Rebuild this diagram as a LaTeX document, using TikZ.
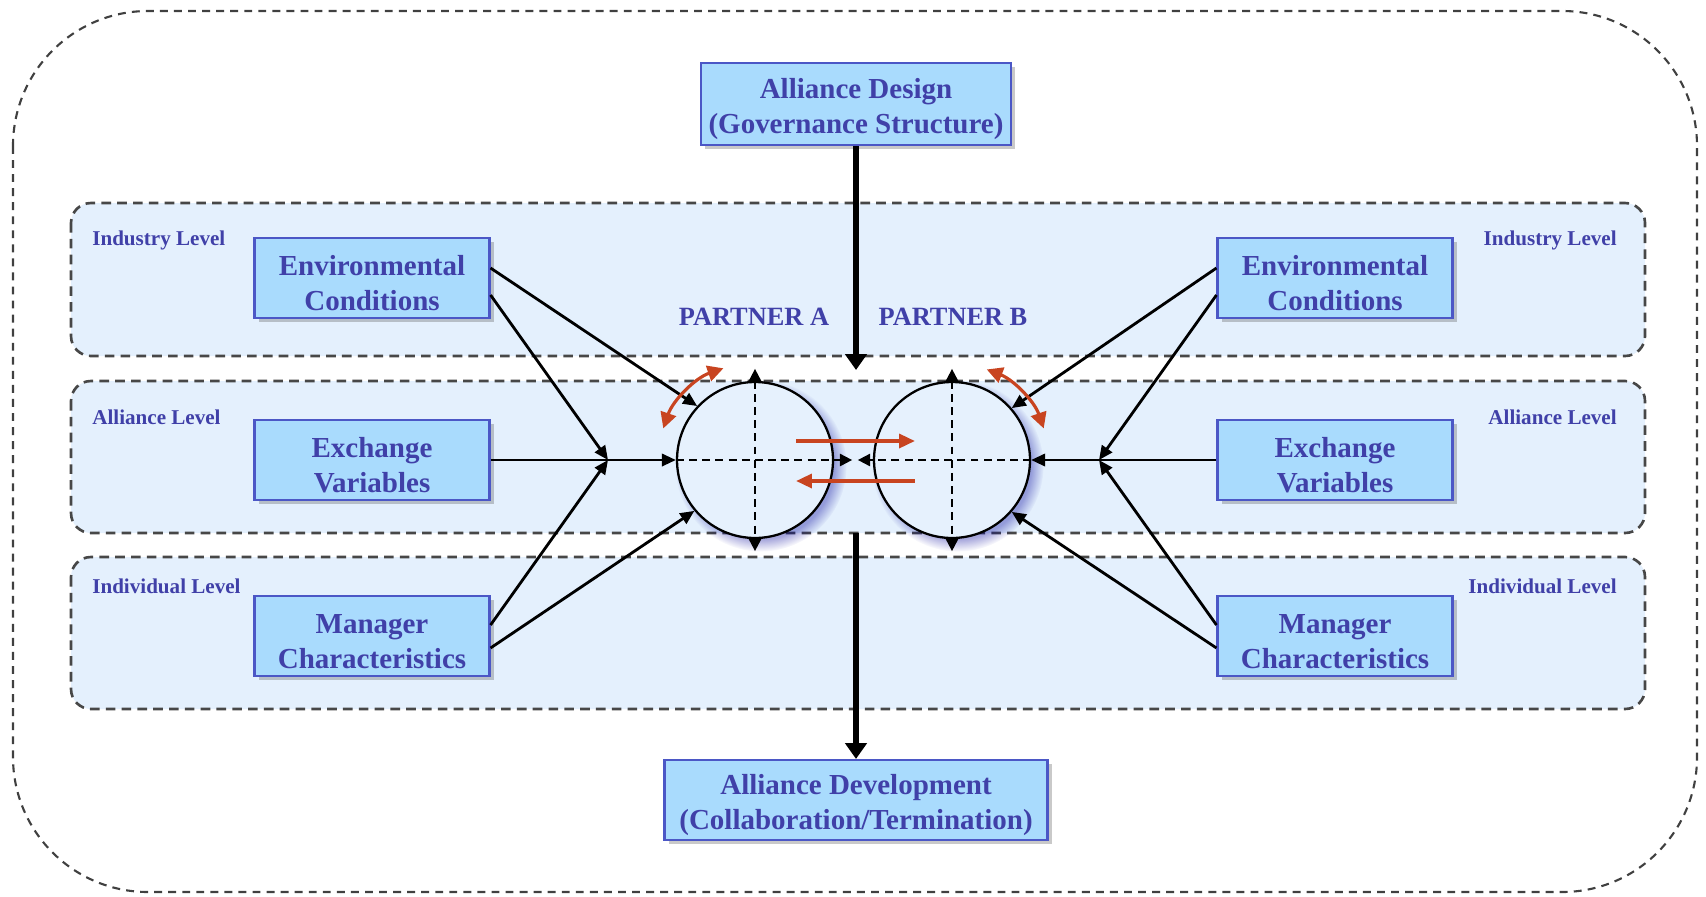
\documentclass[tikz,border=0pt]{standalone}
\usepackage{fontspec}
\setmainfont{Liberation Serif}
\usepackage{tikz}
\usetikzlibrary{arrows.meta, calc, shadows, positioning}
\usepackage{xcolor}
\definecolor{txtblue}{HTML}{4040A8}
\definecolor{boxfill}{HTML}{A9DBFD}
\definecolor{boxline}{HTML}{4B57C6}
\definecolor{bandfill}{HTML}{E4F0FD}
\definecolor{circfill}{HTML}{E6F1FD}
\definecolor{orangered}{HTML}{C84420}

\begin{document}
\begin{tikzpicture}[x=0.02cm, y=-0.02cm,
    box/.style={draw=boxline, line width=1.2pt, fill=boxfill, text=txtblue, align=center,
      font=\bfseries\fontsize{16.5}{20}\selectfont, inner sep=0pt, minimum height=1.6cm,
      execute at begin node={\rule{0pt}{37pt}},
      drop shadow={shadow xshift=2.5pt, shadow yshift=-2.5pt, opacity=0.3, fill=black!70}},
    band/.style={draw=black!72, dash pattern=on 5.5pt off 3.5pt, line width=1.5pt, fill=bandfill, rounded corners=0.4cm},
    lvl/.style={text=txtblue, font=\bfseries\fontsize{12}{14}\selectfont, inner sep=0pt},
    partner/.style={text=txtblue, font=\bfseries\fontsize{15}{18}\selectfont},
    circ/.style={circle, draw=black, line width=1.3pt, fill=circfill, minimum size=3.12cm, inner sep=0pt,
      circular drop shadow={shadow xshift=3pt, shadow yshift=-3pt, opacity=0.35, fill=blue!60!black}},
    conn/.style={line width=1.6pt, -{Triangle[length=8pt, width=7pt]}},
    flow/.style={line width=3pt, -{Triangle[length=9pt, width=12pt]}},
    cross/.style={dash pattern=on 4.5pt off 3pt, line width=1.1pt},
    redarr/.style={draw=orangered, line width=1.8pt}]
    \useasboundingbox (0,0) rectangle (1706,896);
    % Frame and level bands
    \draw[draw=black!75, dash pattern=on 4.5pt off 3.5pt, line width=1.2pt, rounded corners=2.7cm] (13,11) rectangle (1697,892);
    \draw[band] (71,203) rectangle (1645,356);
    \draw[band] (71,381) rectangle (1645,533);
    \draw[band] (71,557) rectangle (1645,709);
    \node[lvl, anchor=west] (indL) at (92,240) {Industry Level};
    \node[lvl, anchor=east] (indR) at (1617,240) {Industry Level};
    \node[lvl, anchor=west] (allL) at (92,417) {Alliance Level};
    \node[lvl, anchor=east] (allR) at (1617,417) {Alliance Level};
    \node[lvl, anchor=west] (indivL) at (92,586) {Individual Level};
    \node[lvl, anchor=east] (indivR) at (1617,586) {Individual Level};
    % Boxes
    \node[box, minimum width=6.2cm, minimum height=1.64cm] (design) at (856,104) {Alliance Design\\(Governance Structure)};
    \node[box, minimum width=7.66cm] (develop) at (856,800) {Alliance Development\\(Collaboration/Termination)};
    \node[box, minimum width=4.7cm] (envL) at (372,278) {Environmental\\Conditions};
    \node[box, minimum width=4.7cm] (exchL) at (372,460) {Exchange\\Variables};
    \node[box, minimum width=4.7cm] (mgrL) at (372,636) {Manager\\Characteristics};
    \node[box, minimum width=4.7cm] (envR) at (1335,278) {Environmental\\Conditions};
    \node[box, minimum width=4.7cm] (exchR) at (1335,460) {Exchange\\Variables};
    \node[box, minimum width=4.7cm] (mgrR) at (1335,636) {Manager\\Characteristics};
    % Partners
    \node[partner] (labA) at (754,317) {PARTNER A};
    \node[partner] (labB) at (953,317) {PARTNER B};
    \node[circ] (partnerA) at (755,460) {};
    \node[circ] (partnerB) at (952,460) {};
    \draw[cross, {Triangle[length=7pt, width=7pt]}-{Triangle[length=7pt, width=7pt]}] ($(partnerA.north)+(0,-12)$) -- ($(partnerA.south)+(0,12)$);
    \draw[cross, {Triangle[length=7pt, width=7pt]}-{Triangle[length=7pt, width=7pt]}] ($(partnerB.north)+(0,-12)$) -- ($(partnerB.south)+(0,12)$);
    \draw[cross, -{Triangle[length=7pt, width=7pt]}] (partnerA.west) -- ($(partnerA.east)+(18,0)$);
    \draw[cross, -{Triangle[length=7pt, width=7pt]}] (partnerB.east) -- ($(partnerB.west)+(-15,0)$);
    % Convergence points
    \coordinate (cvL) at (608,460);
    \coordinate (cvR) at (1099,460);
    % Left connectors
    \draw[conn] ($(envL.east)+(0,-10)$) -- (partnerA.137);
    \draw[conn] ($(envL.east)+(0,17)$) -- (cvL);
    \draw[conn] (exchL.east) -- (partnerA.west);
    \draw[conn] ($(mgrL.east)+(0,-11)$) -- (cvL);
    \draw[conn] ($(mgrL.east)+(0,12)$) -- (partnerA.220);
    % Right connectors
    \draw[conn] ($(envR.west)+(0,-10)$) -- (partnerB.41);
    \draw[conn] ($(envR.west)+(0,17)$) -- (cvR);
    \draw[conn] (exchR.west) -- (partnerB.east);
    \draw[conn] ($(mgrR.west)+(0,-11)$) -- (cvR);
    \draw[conn] ($(mgrR.west)+(0,12)$) -- (partnerB.319);
    % Design and development
    \coordinate (drop) at (856,370);
    \coordinate (rise) at (856,533);
    \draw[flow] (design.south) -- (drop);
    \draw[flow] (rise) -- (develop.north);
    % Interaction arrows
    \draw[redarr, {Triangle[length=9pt, width=9pt]}-{Triangle[length=9pt, width=9pt]}] ($(partnerA)+(-161:97)$) arc[start angle=-161, end angle=-109, radius=97];
    \draw[redarr, {Triangle[length=9pt, width=9pt]}-{Triangle[length=9pt, width=9pt]}] ($(partnerB)+(-69:97)$) arc[start angle=-69, end angle=-19, radius=97];
    \draw[redarr, -{Triangle[length=9pt, width=8pt]}] ($(partnerA.east)+(-38,-19)$) -- ($(partnerB.west)+(42,-19)$);
    \draw[redarr, -{Triangle[length=9pt, width=8pt]}] ($(partnerB.west)+(42,21)$) -- ($(partnerA.east)+(-38,21)$);
\end{tikzpicture}
\end{document}
